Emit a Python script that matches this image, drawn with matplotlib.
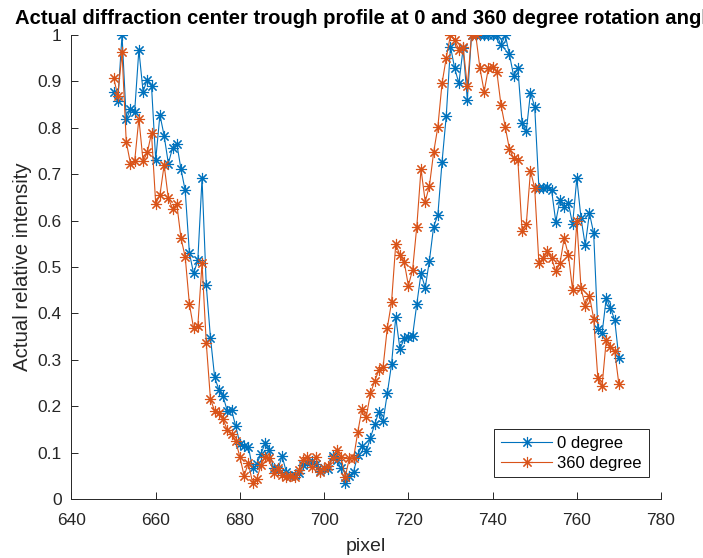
import matplotlib.pyplot as plt
import numpy as np

plt.rcParams['font.family'] = ['Liberation Sans', 'DejaVu Sans']

pixel = np.arange(650, 771)

deg0 = [
    0.878, 0.858, 1.000, 0.818, 0.840, 0.835, 0.968, 0.878, 0.904, 0.890,
    0.731, 0.828, 0.783, 0.723, 0.757, 0.766, 0.711, 0.665, 0.530, 0.486,
    0.515, 0.691, 0.461, 0.348, 0.262, 0.236, 0.221, 0.190, 0.192, 0.157,
    0.119, 0.114, 0.113, 0.066, 0.075, 0.098, 0.120, 0.106, 0.066, 0.062,
    0.093, 0.059, 0.050, 0.052, 0.055, 0.073, 0.077, 0.082, 0.075, 0.060,
    0.066, 0.064, 0.093, 0.084, 0.066, 0.034, 0.050, 0.059, 0.095, 0.115,
    0.103, 0.132, 0.161, 0.188, 0.168, 0.228, 0.290, 0.392, 0.323, 0.346,
    0.350, 0.352, 0.420, 0.486, 0.455, 0.514, 0.587, 0.612, 0.727, 0.826,
    0.975, 0.928, 0.896, 0.971, 0.860, 1.000, 1.000, 1.000, 1.000, 1.000,
    1.000, 1.000, 0.978, 1.000, 0.958, 0.912, 0.928, 0.810, 0.793, 0.876,
    0.845, 0.670, 0.671, 0.673, 0.666, 0.598, 0.644, 0.630, 0.637, 0.592,
    0.691, 0.605, 0.547, 0.616, 0.573, 0.366, 0.357, 0.434, 0.411, 0.386,
    0.303,
]

deg360 = [
    0.908, 0.869, 0.963, 0.770, 0.723, 0.728, 0.820, 0.728, 0.747, 0.788,
    0.636, 0.655, 0.720, 0.648, 0.626, 0.636, 0.562, 0.522, 0.420, 0.368,
    0.373, 0.508, 0.337, 0.215, 0.190, 0.185, 0.172, 0.148, 0.140, 0.125,
    0.090, 0.050, 0.078, 0.035, 0.043, 0.073, 0.091, 0.088, 0.057, 0.066,
    0.052, 0.047, 0.050, 0.047, 0.062, 0.085, 0.091, 0.068, 0.091, 0.059,
    0.066, 0.072, 0.089, 0.106, 0.091, 0.048, 0.088, 0.089, 0.145, 0.195,
    0.177, 0.228, 0.254, 0.278, 0.285, 0.369, 0.424, 0.549, 0.526, 0.511,
    0.460, 0.494, 0.587, 0.711, 0.641, 0.675, 0.747, 0.802, 0.896, 0.951,
    1.000, 0.989, 0.968, 0.975, 0.889, 1.000, 1.000, 0.928, 0.878, 0.928,
    0.930, 0.921, 0.849, 0.802, 0.754, 0.734, 0.731, 0.578, 0.592, 0.707,
    0.670, 0.508, 0.519, 0.534, 0.519, 0.491, 0.508, 0.562, 0.526, 0.450,
    0.599, 0.454, 0.417, 0.438, 0.389, 0.260, 0.244, 0.343, 0.328, 0.318,
    0.247,
]

series = [(deg0, '0 degree', '#0072BD'), (deg360, '360 degree', '#D95319')]

fig = plt.figure(figsize=(7.03, 5.58), dpi=100)
ax = fig.add_axes([0.1017, 0.1057, 0.8386, 0.8316])

# asterisk marker like the MATLAB '*'
star = (8, 2, 0)
for y, label, color in series:
    ax.plot(pixel, y, color=color, linewidth=0.8, marker=star,
            markersize=8, markeredgewidth=0.8, label=label)

ax.set_xlim(640, 780)
ax.set_ylim(0, 1)
ax.set_xticks(np.arange(640, 781, 20))
ax.set_yticks(np.arange(0, 1.01, 0.1))
ax.set_yticklabels(['0', '0.1', '0.2', '0.3', '0.4', '0.5', '0.6', '0.7',
                    '0.8', '0.9', '1'])

for side in ['top', 'right']:
    ax.spines[side].set_visible(False)
for side in ['left', 'bottom']:
    ax.spines[side].set_color('#262626')
    ax.spines[side].set_linewidth(0.7)
ax.tick_params(direction='in', length=5, width=0.7, colors='#262626',
               labelsize=12.5)
ax.tick_params(axis='x', pad=10)
ax.tick_params(axis='y', pad=7)

ax.set_xlabel('pixel', fontsize=14, color='#262626', labelpad=7)
ax.set_ylabel('Actual relative intensity', fontsize=14.7, color='#262626',
              labelpad=4)
# the long title runs past the right edge of the figure
ax.set_title('Actual diffraction center trough profile at 0 and 360 degree rotation angle',
             fontsize=14.6, fontweight='bold', color='black', pad=8)

leg = ax.legend(loc='lower right', bbox_to_anchor=(0.979, 0.047),
                borderaxespad=0, fontsize=12, fancybox=False,
                framealpha=1, edgecolor='#262626', handlelength=3.1,
                borderpad=0.4, labelspacing=0.3, handletextpad=0.3)
leg.get_frame().set_linewidth(0.7)

fig.savefig('out.png', dpi=100)
